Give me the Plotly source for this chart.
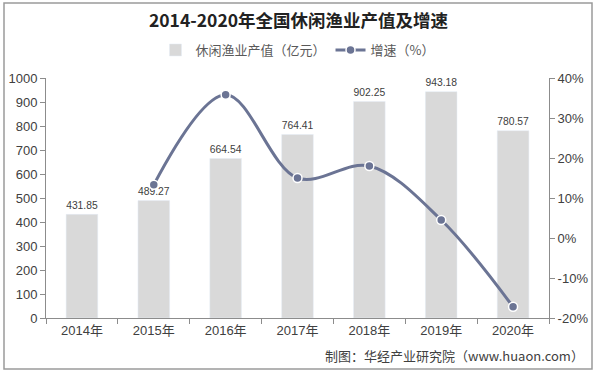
import plotly.graph_objects as go

years = ["2014年", "2015年", "2016年", "2017年", "2018年", "2019年", "2020年"]
output_value = [431.85, 489.27, 664.54, 764.41, 902.25, 943.18, 780.57]
growth_years = ["2015年", "2016年", "2017年", "2018年", "2019年", "2020年"]
growth_rate = [13.3, 35.8, 15.0, 18.0, 4.5, -17.2]
right_ticks = [-20, -10, 0, 10, 20, 30, 40]

W, H = 597, 376
L, R, T, B = 46, 48, 78, 58
pw, ph = W - L - R, H - T - B

def px(x):
    return (x - L) / pw

def py(y):
    return (H - B - y) / ph

font_fam = "Liberation Sans, Arial, Noto Sans CJK SC, sans-serif"
fig = go.Figure()
fig.add_trace(go.Bar(
    x=years, y=output_value, name="休闲渔业产值（亿元）",
    marker_color="#d9d9d9", width=0.44,
    text=[f"{v:.2f}" for v in output_value], textposition="outside",
    textfont=dict(size=13, color="#404040", family=font_fam),
    cliponaxis=False,
))
fig.add_trace(go.Scatter(
    x=growth_years, y=growth_rate, name="增速（%）", yaxis="y2",
    mode="lines+markers", line=dict(color="#6b7494", width=3, shape="spline", smoothing=1.0),
    marker=dict(size=9, color="#6b7494", line=dict(color="white", width=1.5)),
    cliponaxis=False,
))

fig.update_layout(
    width=W, height=H,
    margin=dict(l=L, r=R, t=T, b=B, autoexpand=False),
    paper_bgcolor="white", plot_bgcolor="white",
    showlegend=True,
    legend=dict(orientation="h", x=0.5, xanchor="center", y=py(50), yanchor="middle",
                font=dict(size=13, color="#595959", family="Noto Sans CJK SC, sans-serif"),
                bgcolor="rgba(0,0,0,0)"),
    title=dict(text="<b>2014-2020年全国休闲渔业产值及增速</b>", x=0.5, xanchor="center",
               y=1 - 21 / H, yanchor="middle",
               font=dict(size=17.5, color="#222222", family="Noto Sans CJK SC, sans-serif")),
    xaxis=dict(showline=True, linecolor="#8c8c8c", linewidth=1, ticks="outside", tickcolor="#8c8c8c",
               ticklen=5, tickson="boundaries", showgrid=False, automargin=False,
               tickfont=dict(size=13, color="#404040", family=font_fam)),
    yaxis=dict(range=[0, 1000], dtick=100, showline=True, linecolor="#8c8c8c", ticks="outside",
               tickcolor="#8c8c8c", ticklen=5, showgrid=False, zeroline=False, automargin=False,
               tickfont=dict(size=13, color="#404040", family=font_fam)),
    yaxis2=dict(range=[-20, 40], tickvals=right_ticks, ticktext=[f"{v}%" for v in right_ticks],
                overlaying="y", side="right", showline=True, linecolor="#8c8c8c", ticks="outside",
                tickcolor="#8c8c8c", ticklen=5, showgrid=False, zeroline=False, automargin=False,
                tickfont=dict(size=13, color="#404040", family=font_fam)),
    shapes=[dict(type="rect", xref="paper", yref="paper", x0=px(4), x1=px(592), y0=py(369), y1=py(3),
                 line=dict(color="#9a9a9a", width=1.5), fillcolor="rgba(0,0,0,0)", layer="below")],
    annotations=[dict(text="制图：华经产业研究院（www.huaon.com）", xref="paper", yref="paper",
                      x=px(586), y=py(355), xanchor="right", yanchor="middle", showarrow=False,
                      font=dict(size=13, color="#404040", family="Noto Sans CJK SC, sans-serif"))],
)
fig.write_html("out.html", config={"displayModeBar": False})

with open("out.html", "r", encoding="utf-8") as f:
    html = f.read()
html = html.replace("<head>", "<head><style>html,body{margin:0;padding:0;overflow:hidden;}</style>", 1)
with open("out.html", "w", encoding="utf-8") as f:
    f.write(html)
